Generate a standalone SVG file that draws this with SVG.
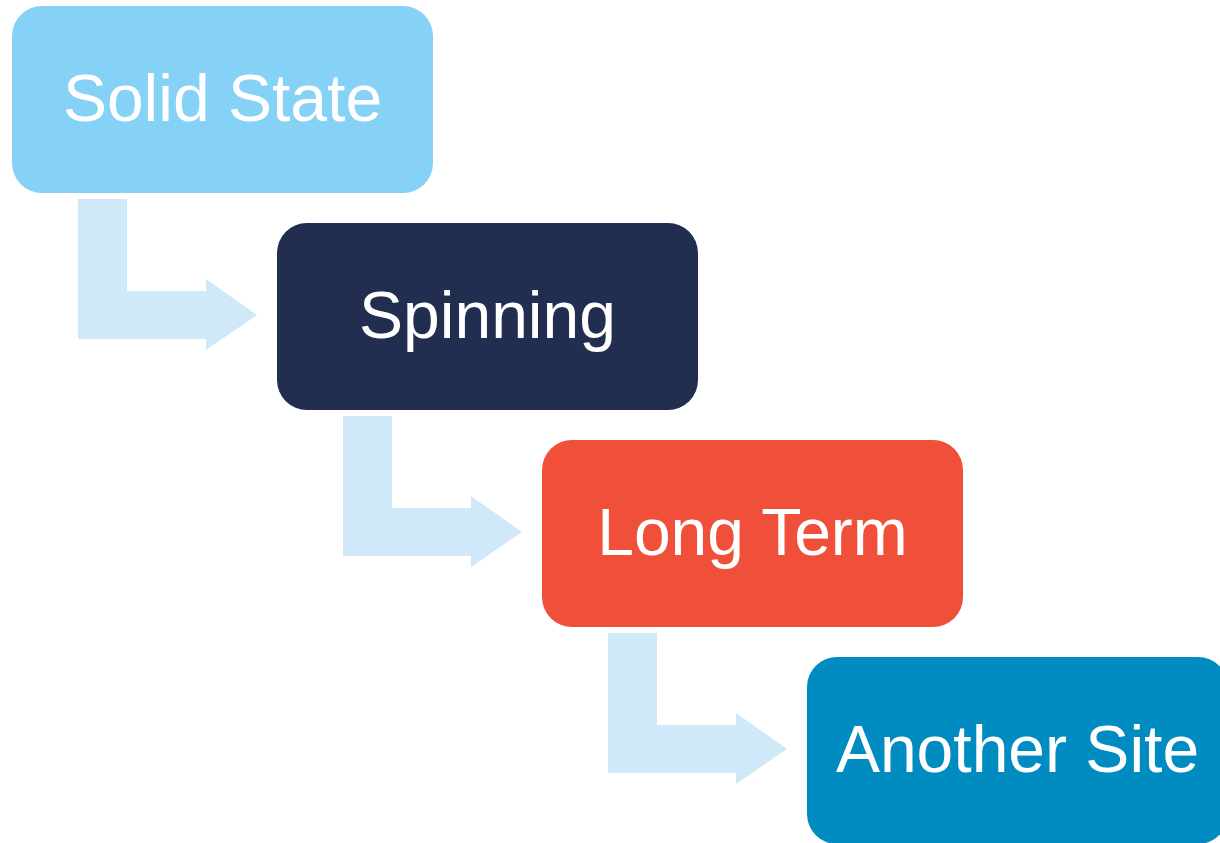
<svg xmlns="http://www.w3.org/2000/svg" width="1220" height="843" viewBox="0 0 1220 843">
<style>
.box{}
.lbl{font-family:"Liberation Sans",Arial,sans-serif;font-size:66px;fill:#ffffff;text-anchor:middle}
.conn{fill:#CFE9F9}
</style>
<defs>
<path id="bent" d="M0,0 H49 V92 H128 V80 L179,116 L128,151 V140 H0 Z"/>
</defs>
<rect width="1220" height="843" fill="#ffffff"/>
<g id="connectors">
<use href="#bent" class="conn" x="78" y="199"/>
<use href="#bent" class="conn" x="343" y="416"/>
<use href="#bent" class="conn" x="608" y="633"/>
</g>
<g id="solid-state">
<rect x="12" y="6" width="421" height="187" rx="30" fill="#86D1F6"/>
<text class="lbl" x="222.5" y="121">Solid State</text>
</g>
<g id="spinning">
<rect x="277" y="223" width="421" height="187" rx="30" fill="#212E50"/>
<text class="lbl" x="487.5" y="338">Spinning</text>
</g>
<g id="long-term">
<rect x="542" y="440" width="421" height="187" rx="30" fill="#F0503A"/>
<text class="lbl" x="752.5" y="555">Long Term</text>
</g>
<g id="another-site">
<rect x="807" y="657" width="421" height="187" rx="30" fill="#008CC1"/>
<text class="lbl" x="1017.5" y="772">Another Site</text>
</g>
</svg>
